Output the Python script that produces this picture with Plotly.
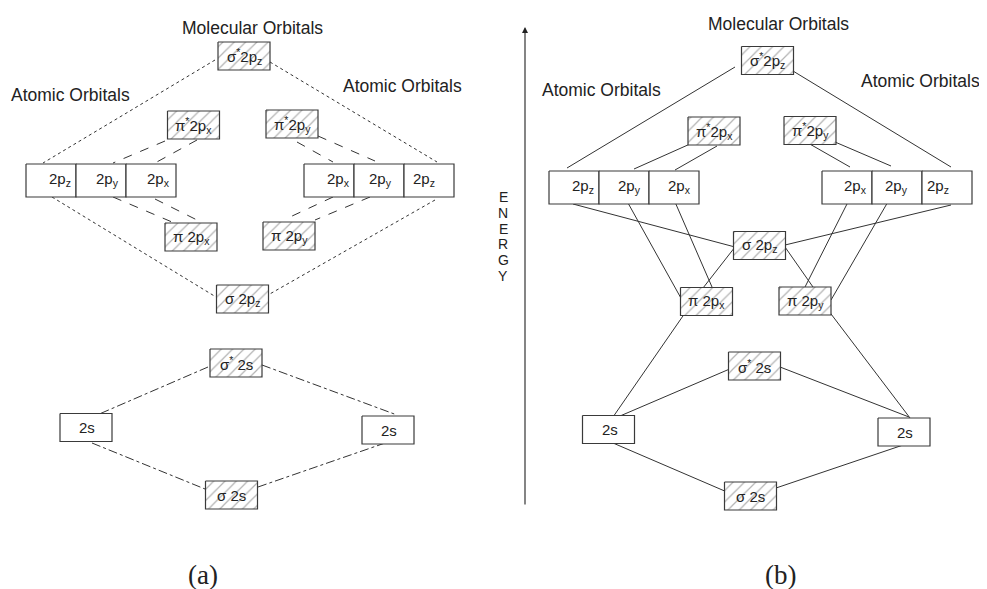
import plotly.graph_objects as go

# ---- panel (a): molecular orbital boxes (centre x, centre y) ----
mo_a_labels = ["σ<sup>*</sup>2p<sub>z</sub>", "π<sup>*</sup>2p<sub>x</sub>", "π<sup>*</sup>2p<sub>y</sub>",
               "π 2p<sub>x</sub>", "π 2p<sub>y</sub>", "σ 2p<sub>z</sub>", "σ<sup>*</sup> 2s", "σ 2s"]
mo_a_x = [244, 193.5, 292, 191, 289, 242.5, 236, 231.5]
mo_a_y = [56, 125, 124, 237, 236, 299, 363, 495]

# ---- panel (b) ----
mo_b_labels = mo_a_labels
mo_b_x = [767.5, 714, 810, 706.5, 805, 759.5, 754.5, 750.5]
mo_b_y = [60.5, 131, 130.5, 301.5, 301, 245.5, 366, 496]

# atomic 2s boxes
s_x = [86, 388, 608.5, 904]
s_y = [427.5, 430, 429.5, 432]

# atomic 2p rows: left edge, top, cell labels and label centres
p_rows_x0 = [26, 304, 549, 822]
p_rows_y0 = [164, 164, 171, 171]
p_rows_labels = [["2p<sub>z</sub>", "2p<sub>y</sub>", "2p<sub>x</sub>"],
                 ["2p<sub>x</sub>", "2p<sub>y</sub>", "2p<sub>z</sub>"],
                 ["2p<sub>z</sub>", "2p<sub>y</sub>", "2p<sub>x</sub>"],
                 ["2p<sub>x</sub>", "2p<sub>y</sub>", "2p<sub>z</sub>"]]
p_rows_label_x = [[60, 107, 158], [338, 380, 424], [583, 629, 679], [855, 896, 938]]

# connecting lines (x0, y0, x1, y1)
dotted_a = [(215, 60, 43, 163), (270, 62, 437, 162), (52, 197, 216, 297), (435, 200, 268, 295)]
dashed_a = [(165, 141, 113, 163), (197, 140, 155, 163), (297, 142, 333, 162), (318, 136, 375, 161),
            (113, 197, 172, 222), (155, 199, 197, 220), (333, 197, 290, 217), (370, 197, 315, 220)]
dashdot_a = [(208, 367, 97, 415), (262, 365, 397, 415), (92, 443, 205, 489), (258, 487, 388, 442)]
solid_b = [(735, 67, 567, 168), (793, 71, 951, 167),
           (690, 144, 634, 169), (717, 146, 675, 170), (808, 143, 850, 167), (835, 142, 891, 166),
           (573, 204, 735, 247), (951, 205, 785, 245),
           (628, 203, 682, 300), (675, 202, 712, 287), (735, 247, 703, 288), (785, 247, 813, 287),
           (849, 200, 805, 287), (889, 200, 831, 300),
           (685, 313, 613, 417), (828, 310, 910, 418),
           (732, 368, 613, 419), (780, 367, 909, 417),
           (613, 443, 727, 492), (776, 488, 912, 442)]

BW, BH = 52, 28
CELL_W, ROW_H = 50, 33
LINE_C = "#333333"
TXT_C = "#222222"
FONT = "Liberation Sans, Arial, sans-serif"
SERIF = "Liberation Serif, Times New Roman, serif"
OFF = 8  # page body margin, so data units land on window pixels

fig = go.Figure()


def add_segments(segs, dash):
    xs, ys = [], []
    for x0, y0, x1, y1 in segs:
        xs += [x0, x1, None]
        ys += [y0, y1, None]
    fig.add_trace(go.Scatter(x=xs, y=ys, mode="lines", hoverinfo="skip",
                             line=dict(color=LINE_C, width=1, dash=dash)))


add_segments(dotted_a, "dot")
add_segments(dashed_a, "dash")
add_segments(dashdot_a, "dashdot")
add_segments(solid_b, "solid")


def add_box(cx, cy, w, h, hatch):
    x0, x1, y0, y1 = cx - w / 2, cx + w / 2, cy - h / 2, cy + h / 2
    kw = dict(x=[x0, x1, x1, x0, x0], y=[y0, y0, y1, y1, y0], mode="lines", fill="toself",
              fillcolor="white", hoverinfo="skip", line=dict(color="#3a3a3a", width=1.2))
    if hatch:
        kw["fillpattern"] = dict(shape="/", size=8, solidity=0.15, fgcolor="#666666", bgcolor="white")
    fig.add_trace(go.Scatter(**kw))


annotations = []


def label(x, y, txt, size=15, family=FONT):
    annotations.append(dict(x=x, y=y, xref="x", yref="y", text=txt, showarrow=False,
                            font=dict(size=size, color=TXT_C, family=family)))


for xs, ys, labs in [(mo_a_x, mo_a_y, mo_a_labels), (mo_b_x, mo_b_y, mo_b_labels)]:
    for cx, cy, t in zip(xs, ys, labs):
        add_box(cx, cy, BW, BH, True)
        label(cx, cy, t)

for cx, cy in zip(s_x, s_y):
    add_box(cx, cy, BW, BH, False)
    label(cx + 1, cy, "2s")

for x0, y0, labs, lxs in zip(p_rows_x0, p_rows_y0, p_rows_labels, p_rows_label_x):
    for i, t in enumerate(labs):
        cx = x0 + CELL_W * (i + 0.5)
        add_box(cx, y0 + ROW_H / 2, CELL_W, ROW_H, False)
    for t, lx in zip(labs, lxs):
        label(lx, y0 + ROW_H / 2 - 1, t)

# headings
label(252, 28, "Molecular Orbitals", 17.5)
label(70, 95, "Atomic Orbitals", 17.5)
label(402, 86, "Atomic Orbitals", 17.5)
label(778, 24, "Molecular Orbitals", 17.5)
label(601, 90, "Atomic Orbitals", 17.5)
label(920, 81, "Atomic Orbitals", 17.5)
label(203, 575, "(a)", 27, SERIF)
label(780, 575, "(b)", 27, SERIF)
for i, ch in enumerate("ENERGY"):
    label(503, 197 + i * 15.8, ch, 14)

# energy arrow
annotations.append(dict(x=525, y=27, ax=525, ay=506, xref="x", yref="y", axref="x", ayref="y",
                        text="", showarrow=True, arrowhead=2, arrowsize=1.1, arrowwidth=1.1,
                        arrowcolor="#222222"))

fig.update_layout(width=987, height=589, margin=dict(l=0, r=0, t=0, b=0),
                  plot_bgcolor="white", paper_bgcolor="white", showlegend=False,
                  annotations=annotations)
fig.update_xaxes(range=[OFF, 987 + OFF], visible=False, fixedrange=True)
fig.update_yaxes(range=[589 + OFF, OFF], visible=False, fixedrange=True)

fig.write_html("out.html")
